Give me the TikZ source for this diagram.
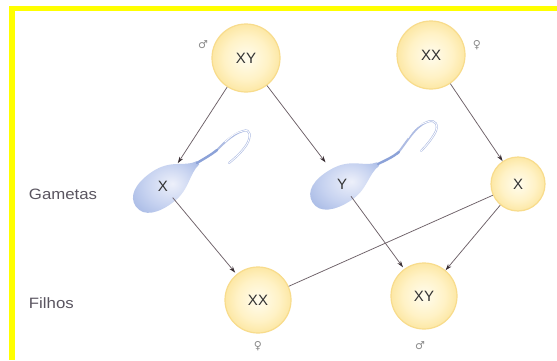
\documentclass[tikz,border=0pt]{standalone}
\usepackage{fontspec}
\setmainfont{Liberation Sans}
\newfontfamily\symfont{DejaVu Sans}
\usetikzlibrary{arrows.meta}

\definecolor{framey}{HTML}{FFFF00}
\definecolor{cellcore}{HTML}{FFFCEE}
\definecolor{cellmid}{HTML}{FFF2C6}
\definecolor{cellouter}{HTML}{FADD84}
\definecolor{cellrim}{HTML}{F3C853}
\definecolor{cellhalo}{HTML}{F8DC8C}
\definecolor{headcore}{HTML}{EDF0FA}
\definecolor{headmid}{HTML}{C6D2F0}
\definecolor{headrim}{HTML}{8CA4DB}
\definecolor{tailblue}{HTML}{8CA2D8}
\definecolor{tailpale}{HTML}{AEBCE3}
\definecolor{ink}{HTML}{333333}
\definecolor{linkcol}{HTML}{6E6168}
\definecolor{tipcol}{HTML}{3A2F34}
\definecolor{labelcol}{HTML}{5A5560}
\definecolor{signcol}{HTML}{8A8A8A}

\pgfdeclareradialshading{cellglow}{\pgfpoint{0bp}{0bp}}{%
  color(0bp)=(cellcore); color(16bp)=(cellmid); color(34bp)=(cellouter);
  color(46bp)=(cellrim); color(50bp)=(cellrim)}
\pgfdeclareradialshading{headglow}{\pgfpoint{6bp}{4bp}}{%
  color(0bp)=(headcore); color(18bp)=(headmid); color(42bp)=(headrim);
  color(50bp)=(headrim)}

\tikzset{
  cell/.style={circle, minimum size=#1, inner sep=0pt, shade, shading=cellglow,
    draw=cellhalo, line width=1.2pt, text=ink,
    font=\fontsize{15}{15}\selectfont},
  gamete/.style={circle, minimum size=30pt, inner sep=0pt, text=ink,
    font=\fontsize{15}{15}\selectfont},
  head/.style={shade, shading=headglow},
  tailroot/.style={draw=tailblue, line width=2.4pt, line cap=round},
  tailhook/.style={draw=tailpale, line width=2pt, line cap=round},
  tailcore/.style={draw=white, line width=0.8pt, line cap=round},
  link/.style={draw=linkcol, line width=0.75pt,
    -{Stealth[length=6.5pt, width=4.2pt, color=tipcol]}},
  bond/.style={draw=linkcol, line width=0.75pt},
  sign/.style={text=signcol, font=\symfont\fontsize{11}{11}\selectfont},
  rowlabel/.style={anchor=west, text=labelcol,
    font=\fontsize{15}{15}\selectfont, xscale=1.12},
}

\begin{document}
\begin{tikzpicture}[x=1pt, y=1pt]
  % page and frame
  \fill[white] (0,0) rectangle (557,360);
  \useasboundingbox (0,0) rectangle (557,360);
  \fill[framey] (9,0) rectangle (15,354);
  \fill[framey] (9,349) rectangle (557,354);

  % sperm heads and tails
  \begin{scope}[shift={(162,172)}, rotate=35]
    \path[head] (44,2) .. controls (30,4) and (24,19) .. (0,19)
      .. controls (-20,19) and (-32,12) .. (-32,0)
      .. controls (-32,-14) and (-16,-19) .. (2,-18)
      .. controls (22,-17) and (30,-4) .. (44,-2) -- cycle;
  \end{scope}
  \path[tailhook] (215,208) .. controls (222,215) and (232,226) .. (243,229)
    .. controls (251,232) and (251,223) .. (247,216)
    .. controls (242,208) and (235,202) .. (229,197);
  \path[tailcore] (225,218) .. controls (233,226) and (238,228) .. (243,229)
    .. controls (251,232) and (251,223) .. (247,216)
    .. controls (242,208) and (235,202) .. (229,197);
  \path[tailroot] (197,197) .. controls (205,202) and (211,205) .. (217,210);

  \begin{scope}[shift={(340,174)}, rotate=30]
    \path[head] (44,2) .. controls (30,4) and (24,19) .. (0,19)
      .. controls (-20,19) and (-32,12) .. (-32,0)
      .. controls (-32,-14) and (-16,-19) .. (2,-18)
      .. controls (22,-17) and (30,-4) .. (44,-2) -- cycle;
  \end{scope}
  \path[tailhook] (397,206) .. controls (405,215) and (415,234) .. (427,238)
    .. controls (436,242) and (439,234) .. (435,227)
    .. controls (431,220) and (426,214) .. (421,209);
  \path[tailcore] (408,222) .. controls (414,232) and (420,236) .. (427,238)
    .. controls (436,242) and (439,234) .. (435,227)
    .. controls (431,220) and (426,214) .. (421,209);
  \path[tailroot] (378,196) .. controls (386,200) and (393,203) .. (399,208);

  % cells
  \node[cell=68pt] (xyP) at (246,302) {XY};
  \node[cell=68pt] (xxP) at (431,305) {XX};
  \node[cell=54pt] (egX) at (518,176) {X};
  \node[cell=66pt] (xxC) at (258,60) {XX};
  \node[cell=66pt] (xyC) at (424,64) {XY};
  \node[gamete] (spX) at (163,174) {X};
  \node[gamete] (spY) at (342,176) {Y};

  % sex signs
  \node[sign] (mP) at (203,315) {♂};
  \node[sign] (fP) at (477,315) {♀};
  \node[sign] (fC) at (258,14) {♀};
  \node[sign] (mC) at (420,14) {♂};

  % row labels
  \node[rowlabel] (gam) at (25,166) {Gametas};
  \node[rowlabel] (fil) at (25,57) {Filhos};

  % connectors
  \draw[link, shorten >=12pt] (xyP) -- (spX);
  \draw[link, shorten >=12pt] (xyP) -- (spY);
  \draw[link] (xxP) -- (egX);
  \draw[link, shorten >=2pt] (spX) -- (xxC);
  \draw[link, shorten >=2pt] (spY) -- (xyC);
  \draw[link] (egX) -- (xyC);
  \draw[bond] (egX) -- (xxC);
\end{tikzpicture}
\end{document}
